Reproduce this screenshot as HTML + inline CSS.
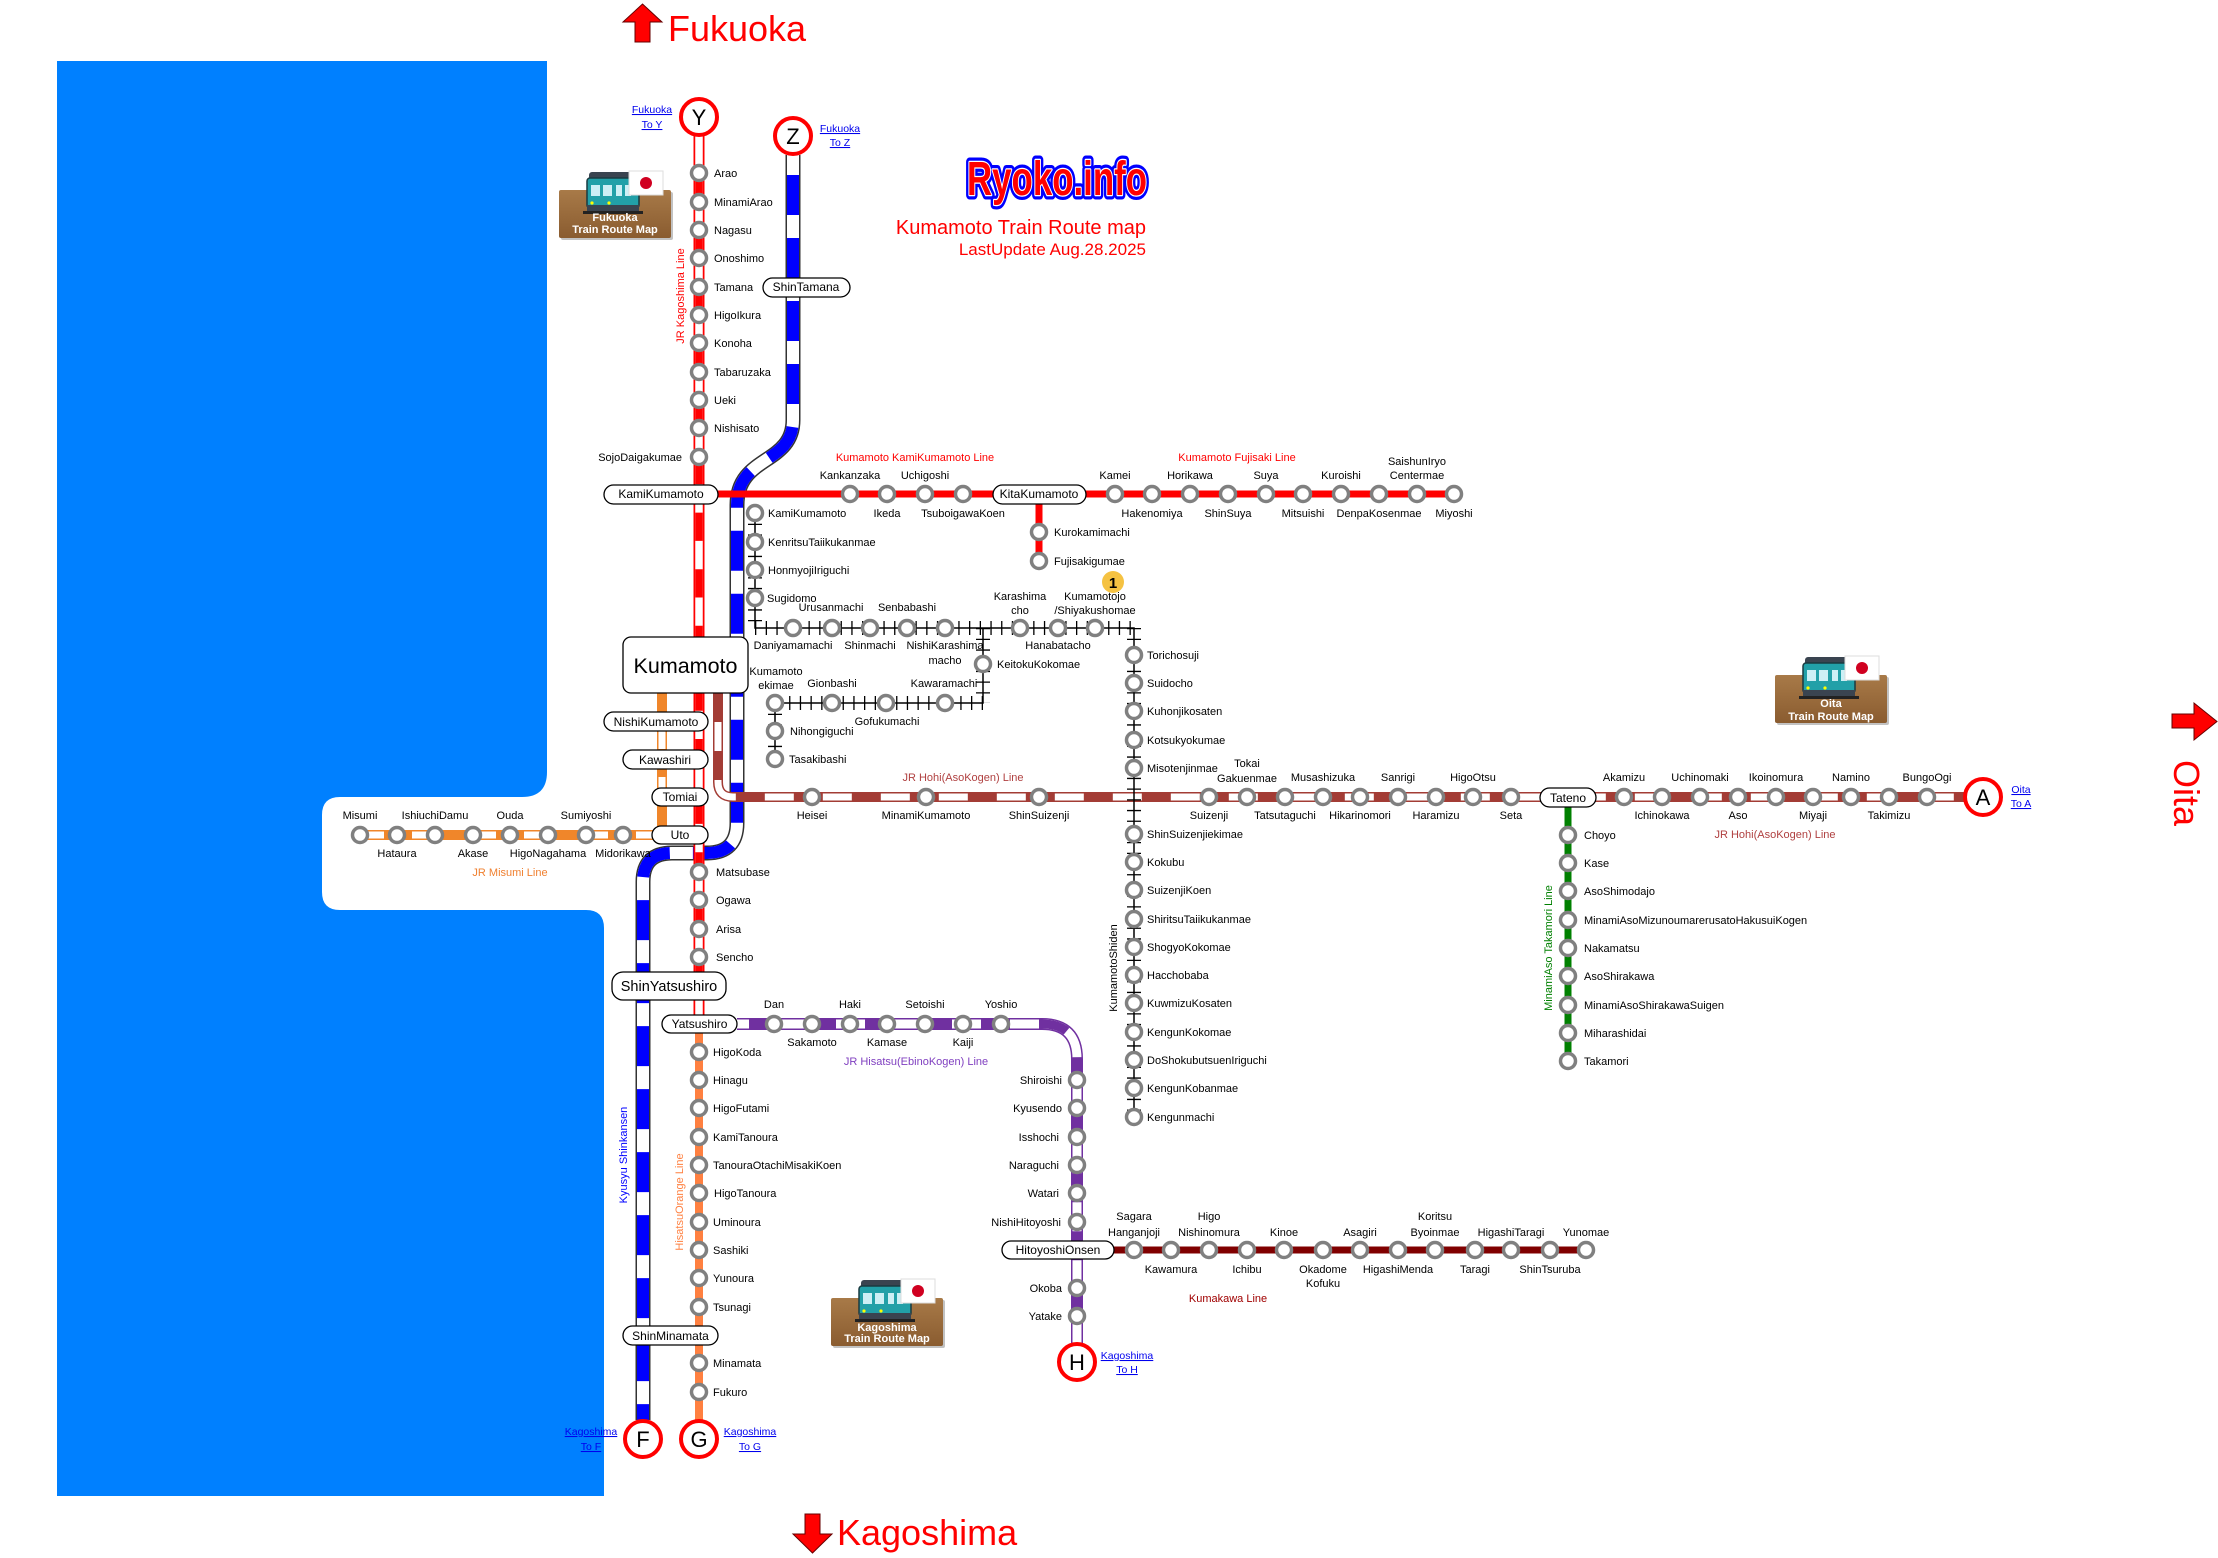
<!DOCTYPE html>
<html><head><meta charset="utf-8">
<style>
html,body{margin:0;padding:0;background:#fff;}
svg{display:block;}
.s{font-family:"Liberation Sans",sans-serif;font-size:11px;fill:#000;}
.m{text-anchor:middle;}
.e{text-anchor:end;}
.p{font-family:"Liberation Sans",sans-serif;font-size:12px;fill:#000;text-anchor:middle;}
.lk{font-family:"Liberation Sans",sans-serif;font-size:10.5px;fill:#0000ee;text-anchor:middle;text-decoration:underline;}
.cl{font-family:"Liberation Sans",sans-serif;font-size:22px;fill:#000;text-anchor:middle;}
.big{font-family:"Liberation Sans",sans-serif;font-size:36px;fill:#ff0000;}
.ic{font-family:"Liberation Sans",sans-serif;font-size:11px;font-weight:bold;fill:#fff;text-anchor:middle;}
</style></head>
<body>
<svg width="2218" height="1558" viewBox="0 0 2218 1558" xmlns="http://www.w3.org/2000/svg">
<defs>
<circle id="c" r="7.5" fill="#fff" stroke="#808080" stroke-width="3.5"/>
<linearGradient id="bx" x1="0" y1="0" x2="0" y2="1"><stop offset="0" stop-color="#a87a48"/><stop offset="1" stop-color="#8a5c30"/></linearGradient>
<g id="icon">
<rect x="2" y="20" width="112" height="48" rx="2" fill="#999" opacity="0.6"/>
<rect x="0" y="18" width="112" height="48" rx="2" fill="url(#bx)"/>
<rect x="30" y="0" width="48" height="8" rx="3" fill="#3a4450"/>
<rect x="28" y="6" width="52" height="30" rx="3" fill="#22a0a8" stroke="#1a3a40" stroke-width="1.5"/>
<rect x="32" y="13" width="9" height="11" fill="#cdeff5"/>
<rect x="44" y="13" width="9" height="11" fill="#cdeff5"/>
<rect x="57" y="13" width="6" height="11" fill="#cdeff5"/>
<rect x="66" y="13" width="6" height="11" fill="#cdeff5"/>
<rect x="28" y="33" width="52" height="7" fill="#3a4450"/>
<rect x="24" y="39" width="60" height="3" fill="#222"/>
<circle cx="33" cy="31" r="1.6" fill="#ff0"/><circle cx="50" cy="31" r="1.6" fill="#ff0"/>
<rect x="70" y="-1" width="34" height="24" fill="#fff" stroke="#ddd" stroke-width="1"/>
<circle cx="87" cy="11" r="6" fill="#d00020"/>
</g>
</defs>

<!-- sea -->
<path d="M57,61 H547 V772 Q547,797 522,797 H340 Q322,797 322,815 V892 Q322,910 340,910 H586 Q604,910 604,928 V1496 H57 Z" fill="#0080ff"/>

<!-- Shinkansen -->
<g fill="none">
<path d="M793,155 V420 C793,465 737,455 737,505 V823 Q737,853 707,853 H672 Q643,853 643,882 V1420" stroke="#333" stroke-width="15"/>
<path d="M793,155 V420 C793,465 737,455 737,505 V823 Q737,853 707,853 H672 Q643,853 643,882 V1420" stroke="#fff" stroke-width="12"/>
<path d="M793,175 V420 C793,465 737,455 737,505 V823 Q737,853 707,853 H672 Q643,853 643,882 V1420" stroke="#0000ff" stroke-width="12" stroke-dasharray="40 23"/>
</g>

<!-- Kagoshima line -->
<g fill="none">
<path d="M699,136 V1015" stroke="#ff0000" stroke-width="11"/>
<path d="M699,136 V1015" stroke="#fff" stroke-width="7.5"/>
<path d="M699,173 V1015" stroke="#ff0000" stroke-width="7.5" stroke-dasharray="28.3 28.3"/>
</g>

<!-- Misumi line -->
<g fill="none">
<path d="M662,693 V835 H360" stroke="#f0862a" stroke-width="10"/>
<path d="M662,693 V835 H360" stroke="#fff" stroke-width="7"/>
<path d="M662,693 V835 H360" stroke="#f0862a" stroke-width="7" stroke-dasharray="28 28"/>
</g>

<!-- Hohi line -->
<g fill="none">
<path d="M718,693 V782 Q718,797 733,797 H1964" stroke="#a33c35" stroke-width="10"/>
<path d="M718,693 V782 Q718,797 733,797 H1964" stroke="#fff" stroke-width="7"/>
<path d="M718,693 V782 Q718,797 733,797 H1964" stroke="#a33c35" stroke-width="7" stroke-dasharray="29 29"/>
</g>

<!-- KamiKumamoto / Fujisaki -->
<path d="M718,494 H1454 M1039,494 V561" stroke="#ff0000" stroke-width="7" fill="none"/>

<!-- Tram -->
<g fill="none" stroke="#000">
<path d="M755,513 V628 H1134 V1117 M983,628 V703 H775 V759" stroke-width="1.5"/>
<path d="M755,513 V628 M755,628 H1134 M1134,628 V1117 M983,628 V703 M983,703 H775 M775,703 V759" stroke-width="14" stroke-dasharray="1.3 9.4"/>
</g>

<!-- Hisatsu line -->
<g fill="none">
<path d="M737,1024 H1042 Q1077,1024 1077,1059 V1343" stroke="#7030a0" stroke-width="12"/>
<path d="M737,1024 H1042 Q1077,1024 1077,1059 V1343" stroke="#fff" stroke-width="9"/>
<path d="M737,1024 H1042 Q1077,1024 1077,1059 V1343" stroke="#7030a0" stroke-width="9" stroke-dasharray="29 29" stroke-dashoffset="-12"/>
</g>

<!-- Orange railway, Kumakawa, Takamori -->
<path d="M699,1033 V1420" stroke="#ff8040" stroke-width="8" fill="none"/>
<path d="M1114,1250 H1586" stroke="#800000" stroke-width="7" fill="none"/>
<path d="M1568,807 V1061" stroke="#008000" stroke-width="7" fill="none"/>

<!-- stations -->
<g>
<use href="#c" x="699" y="173"/><use href="#c" x="699" y="202"/><use href="#c" x="699" y="230"/><use href="#c" x="699" y="258"/><use href="#c" x="699" y="287"/><use href="#c" x="699" y="315"/><use href="#c" x="699" y="343"/><use href="#c" x="699" y="372"/><use href="#c" x="699" y="400"/><use href="#c" x="699" y="428"/><use href="#c" x="699" y="457"/>
<use href="#c" x="699" y="872"/><use href="#c" x="699" y="900"/><use href="#c" x="699" y="929"/><use href="#c" x="699" y="957"/>
<use href="#c" x="850" y="494"/><use href="#c" x="887" y="494"/><use href="#c" x="925" y="494"/><use href="#c" x="963" y="494"/>
<use href="#c" x="1115" y="494"/><use href="#c" x="1152" y="494"/><use href="#c" x="1190" y="494"/><use href="#c" x="1228" y="494"/><use href="#c" x="1266" y="494"/><use href="#c" x="1303" y="494"/><use href="#c" x="1341" y="494"/><use href="#c" x="1379" y="494"/><use href="#c" x="1417" y="494"/><use href="#c" x="1454" y="494"/>
<use href="#c" x="1039" y="532"/><use href="#c" x="1039" y="561"/>
<use href="#c" x="755" y="513"/><use href="#c" x="755" y="542"/><use href="#c" x="755" y="570"/><use href="#c" x="755" y="598"/>
<use href="#c" x="793" y="628"/><use href="#c" x="832" y="628"/><use href="#c" x="870" y="628"/><use href="#c" x="907" y="628"/><use href="#c" x="945" y="628"/><use href="#c" x="1020" y="628"/><use href="#c" x="1058" y="628"/><use href="#c" x="1095" y="628"/>
<use href="#c" x="983" y="664"/>
<use href="#c" x="775" y="703"/><use href="#c" x="832" y="703"/><use href="#c" x="886" y="703"/><use href="#c" x="945" y="703"/>
<use href="#c" x="775" y="731"/><use href="#c" x="775" y="759"/>
<use href="#c" x="1134" y="655"/><use href="#c" x="1134" y="683"/><use href="#c" x="1134" y="711"/><use href="#c" x="1134" y="740"/><use href="#c" x="1134" y="768"/><use href="#c" x="1134" y="834"/><use href="#c" x="1134" y="862"/><use href="#c" x="1134" y="890"/><use href="#c" x="1134" y="919"/><use href="#c" x="1134" y="947"/><use href="#c" x="1134" y="975"/><use href="#c" x="1134" y="1003"/><use href="#c" x="1134" y="1032"/><use href="#c" x="1134" y="1060"/><use href="#c" x="1134" y="1088"/><use href="#c" x="1134" y="1117"/>
<use href="#c" x="360" y="835"/><use href="#c" x="397" y="835"/><use href="#c" x="435" y="835"/><use href="#c" x="473" y="835"/><use href="#c" x="510" y="835"/><use href="#c" x="548" y="835"/><use href="#c" x="586" y="835"/><use href="#c" x="623" y="835"/>
<use href="#c" x="812" y="797"/><use href="#c" x="926" y="797"/><use href="#c" x="1039" y="797"/><use href="#c" x="1209" y="797"/><use href="#c" x="1247" y="797"/><use href="#c" x="1285" y="797"/><use href="#c" x="1323" y="797"/><use href="#c" x="1360" y="797"/><use href="#c" x="1398" y="797"/><use href="#c" x="1436" y="797"/><use href="#c" x="1473" y="797"/><use href="#c" x="1511" y="797"/><use href="#c" x="1624" y="797"/><use href="#c" x="1662" y="797"/><use href="#c" x="1700" y="797"/><use href="#c" x="1738" y="797"/><use href="#c" x="1776" y="797"/><use href="#c" x="1813" y="797"/><use href="#c" x="1851" y="797"/><use href="#c" x="1889" y="797"/><use href="#c" x="1927" y="797"/>
<use href="#c" x="1568" y="835"/><use href="#c" x="1568" y="863"/><use href="#c" x="1568" y="891"/><use href="#c" x="1568" y="920"/><use href="#c" x="1568" y="948"/><use href="#c" x="1568" y="976"/><use href="#c" x="1568" y="1005"/><use href="#c" x="1568" y="1033"/><use href="#c" x="1568" y="1061"/>
<use href="#c" x="774" y="1024"/><use href="#c" x="812" y="1024"/><use href="#c" x="850" y="1024"/><use href="#c" x="887" y="1024"/><use href="#c" x="925" y="1024"/><use href="#c" x="963" y="1024"/><use href="#c" x="1001" y="1024"/>
<use href="#c" x="1077" y="1080"/><use href="#c" x="1077" y="1108"/><use href="#c" x="1077" y="1137"/><use href="#c" x="1077" y="1165"/><use href="#c" x="1077" y="1193"/><use href="#c" x="1077" y="1222"/><use href="#c" x="1077" y="1288"/><use href="#c" x="1077" y="1316"/>
<use href="#c" x="699" y="1052"/><use href="#c" x="699" y="1080"/><use href="#c" x="699" y="1108"/><use href="#c" x="699" y="1137"/><use href="#c" x="699" y="1165"/><use href="#c" x="699" y="1193"/><use href="#c" x="699" y="1222"/><use href="#c" x="699" y="1250"/><use href="#c" x="699" y="1278"/><use href="#c" x="699" y="1307"/><use href="#c" x="699" y="1363"/><use href="#c" x="699" y="1392"/>
<use href="#c" x="1134" y="1250"/><use href="#c" x="1171" y="1250"/><use href="#c" x="1209" y="1250"/><use href="#c" x="1247" y="1250"/><use href="#c" x="1284" y="1250"/><use href="#c" x="1323" y="1250"/><use href="#c" x="1360" y="1250"/><use href="#c" x="1398" y="1250"/><use href="#c" x="1435" y="1250"/><use href="#c" x="1475" y="1250"/><use href="#c" x="1511" y="1250"/><use href="#c" x="1550" y="1250"/><use href="#c" x="1586" y="1250"/>
</g>

<!-- pills -->
<g fill="#fff" stroke="#000" stroke-width="1.3">
<rect x="604" y="485" width="114" height="19" rx="9.5"/>
<rect x="993" y="485" width="93" height="19" rx="9.5"/>
<rect x="763" y="278" width="87" height="19" rx="9.5"/>
<rect x="623" y="637" width="125" height="56" rx="8"/>
<rect x="604" y="712" width="104" height="19" rx="9.5"/>
<rect x="623" y="750" width="85" height="19" rx="9.5"/>
<rect x="652" y="788" width="56" height="18" rx="9"/>
<rect x="652" y="826" width="56" height="18" rx="9"/>
<rect x="612" y="972" width="114" height="28" rx="11"/>
<rect x="662" y="1015" width="75" height="18" rx="9"/>
<rect x="623" y="1326" width="95" height="19" rx="9.5"/>
<rect x="1540" y="788" width="56" height="19" rx="9.5"/>
<rect x="1002" y="1241" width="112" height="18" rx="9"/>
</g>
<g class="p">
<text x="661" y="498">KamiKumamoto</text>
<text x="1039" y="498">KitaKumamoto</text>
<text x="806" y="291">ShinTamana</text>
<text x="685.5" y="673" style="font-size:21.5px">Kumamoto</text>
<text x="656" y="726">NishiKumamoto</text>
<text x="665" y="764">Kawashiri</text>
<text x="680" y="801">Tomiai</text>
<text x="680" y="839">Uto</text>
<text x="669" y="991" style="font-size:14.5px">ShinYatsushiro</text>
<text x="699.5" y="1028">Yatsushiro</text>
<text x="670.5" y="1340">ShinMinamata</text>
<text x="1568" y="802">Tateno</text>
<text x="1058" y="1254">HitoyoshiOnsen</text>
</g>

<!-- terminal circles -->
<g fill="#fff" stroke="#ff0000" stroke-width="4">
<circle cx="699" cy="117" r="18"/><circle cx="793" cy="136" r="18"/><circle cx="1983" cy="797" r="18"/>
<circle cx="643" cy="1439" r="18"/><circle cx="699" cy="1439" r="18"/><circle cx="1077" cy="1362" r="18"/>
</g>
<g class="cl">
<text x="699" y="125">Y</text><text x="793" y="144">Z</text><text x="1983" y="805">A</text>
<text x="643" y="1447">F</text><text x="699" y="1447">G</text><text x="1077" y="1370">H</text>
</g>
<g class="lk">
<text x="652" y="113">Fukuoka</text><text x="652" y="128">To Y</text>
<text x="840" y="132">Fukuoka</text><text x="840" y="146">To Z</text>
<text x="2021" y="793">Oita</text><text x="2021" y="807">To A</text>
<text x="591" y="1435">Kagoshima</text><text x="591" y="1450">To F</text>
<text x="750" y="1435">Kagoshima</text><text x="750" y="1450">To G</text>
<text x="1127" y="1359">Kagoshima</text><text x="1127" y="1373">To H</text>
</g>

<!-- big arrows -->
<polygon points="642.5,4 662,22 650,22 650,42 635,42 635,22 623,22" fill="#ff0000" stroke="#600" stroke-width="1"/>
<text class="big" x="668" y="41">Fukuoka</text>
<polygon points="805,1514 820,1514 820,1534 832,1534 812.5,1553 793,1534 805,1534" fill="#ff0000" stroke="#600" stroke-width="1"/>
<text class="big" x="837" y="1545">Kagoshima</text>
<polygon points="2172,714 2194,714 2194,703 2217,721.5 2194,740 2194,728 2172,728" fill="#ff0000" stroke="#600" stroke-width="1"/>
<text class="big" transform="translate(2174,760) rotate(90)" x="0" y="0">Oita</text>

<!-- logo and title -->
<text x="967" y="195" font-family="'Liberation Sans Narrow','Liberation Sans',sans-serif" font-weight="bold" font-size="48" fill="#0000ff" stroke="#0000ff" stroke-width="9" stroke-linejoin="round" textLength="180" lengthAdjust="spacingAndGlyphs">Ryoko.info</text>
<text x="967" y="195" font-family="'Liberation Sans Narrow','Liberation Sans',sans-serif" font-weight="bold" font-size="48" fill="#ff0000" stroke="#fff" stroke-width="2.5" paint-order="stroke" stroke-linejoin="round" textLength="180" lengthAdjust="spacingAndGlyphs">Ryoko.info</text>
<text x="1146" y="234" class="e" font-family="'Liberation Sans',sans-serif" font-size="20" fill="#ff0000">Kumamoto Train Route map</text>
<text x="1146" y="255" class="e" font-family="'Liberation Sans',sans-serif" font-size="17" fill="#ff0000">LastUpdate Aug.28.2025</text>

<!-- icons -->
<use href="#icon" x="559" y="172"/>
<text class="ic" x="615" y="221">Fukuoka</text><text class="ic" x="615" y="233">Train Route Map</text>
<use href="#icon" x="1775" y="657"/>
<text class="ic" x="1831" y="707">Oita</text><text class="ic" x="1831" y="720">Train Route Map</text>
<use href="#icon" x="831" y="1280"/>
<text class="ic" x="887" y="1331">Kagoshima</text><text class="ic" x="887" y="1342">Train Route Map</text>

<!-- badge 1 -->
<circle cx="1113" cy="582" r="11" fill="#f5c242"/>
<text x="1113" y="588" class="m" font-family="'Liberation Sans',sans-serif" font-size="15" font-weight="bold" fill="#000">1</text>

<!-- line labels -->
<g font-family="'Liberation Sans',sans-serif" font-size="11">
<text x="915" y="461" class="m" fill="#ff0000">Kumamoto KamiKumamoto Line</text>
<text x="1237" y="461" class="m" fill="#ff0000">Kumamoto Fujisaki Line</text>
<text transform="translate(684,296) rotate(-90)" class="m" fill="#ff0000">JR Kagoshima Line</text>
<text x="963" y="781" class="m" fill="#b04040">JR Hohi(AsoKogen) Line</text>
<text x="1775" y="838" class="m" fill="#b04040">JR Hohi(AsoKogen) Line</text>
<text x="510" y="876" class="m" fill="#f08030">JR Misumi Line</text>
<text x="916" y="1065" class="m" fill="#8040c0">JR Hisatsu(EbinoKogen) Line</text>
<text x="1228" y="1302" class="m" fill="#a00000">Kumakawa Line</text>
<text transform="translate(1552,948) rotate(-90)" class="m" fill="#008000">MinamiAso Takamori Line</text>
<text transform="translate(683,1202) rotate(-90)" class="m" fill="#ff8040">HisatsuOrange Line</text>
<text transform="translate(627,1155) rotate(-90)" class="m" fill="#0000ff">Kyusyu Shinkansen</text>
<text transform="translate(1117,968) rotate(-90)" class="m" fill="#000">KumamotoShiden</text>
</g>

<!-- station labels -->
<g class="s">
<text x="714" y="177">Arao</text><text x="714" y="206">MinamiArao</text><text x="714" y="234">Nagasu</text><text x="714" y="262">Onoshimo</text><text x="714" y="291">Tamana</text><text x="714" y="319">HigoIkura</text><text x="714" y="347">Konoha</text><text x="714" y="376">Tabaruzaka</text><text x="714" y="404">Ueki</text><text x="714" y="432">Nishisato</text>
<text x="682" y="461" class="e">SojoDaigakumae</text>
<text x="716" y="876">Matsubase</text><text x="716" y="904">Ogawa</text><text x="716" y="933">Arisa</text><text x="716" y="961">Sencho</text>

<text x="850" y="479" class="m">Kankanzaka</text><text x="887" y="517" class="m">Ikeda</text><text x="925" y="479" class="m">Uchigoshi</text><text x="963" y="517" class="m">TsuboigawaKoen</text>
<text x="1115" y="479" class="m">Kamei</text><text x="1152" y="517" class="m">Hakenomiya</text><text x="1190" y="479" class="m">Horikawa</text><text x="1228" y="517" class="m">ShinSuya</text><text x="1266" y="479" class="m">Suya</text><text x="1303" y="517" class="m">Mitsuishi</text><text x="1341" y="479" class="m">Kuroishi</text><text x="1379" y="517" class="m">DenpaKosenmae</text><text x="1417" y="465" class="m">SaishunIryo</text><text x="1417" y="479" class="m">Centermae</text><text x="1454" y="517" class="m">Miyoshi</text>
<text x="1054" y="536">Kurokamimachi</text><text x="1054" y="565">Fujisakigumae</text>

<text x="768" y="517">KamiKumamoto</text><text x="768" y="546">KenritsuTaiikukanmae</text><text x="768" y="574">HonmyojiIriguchi</text><text x="767" y="602">Sugidomo</text>
<text x="793" y="649" class="m">Daniyamamachi</text><text x="831" y="611" class="m">Urusanmachi</text><text x="870" y="649" class="m">Shinmachi</text><text x="907" y="611" class="m">Senbabashi</text><text x="945" y="649" class="m">NishiKarashima</text><text x="945" y="664" class="m">macho</text><text x="1020" y="600" class="m">Karashima</text><text x="1020" y="614" class="m">cho</text><text x="1058" y="649" class="m">Hanabatacho</text><text x="1095" y="600" class="m">Kumamotojo</text><text x="1095" y="614" class="m">/Shiyakushomae</text>
<text x="997" y="668">KeitokuKokomae</text>
<text x="776" y="675" class="m">Kumamoto</text><text x="776" y="689" class="m">ekimae</text><text x="832" y="687" class="m">Gionbashi</text><text x="887" y="725" class="m">Gofukumachi</text><text x="944" y="687" class="m">Kawaramachi</text>
<text x="790" y="735">Nihongiguchi</text><text x="789" y="763">Tasakibashi</text>
<text x="1147" y="659">Torichosuji</text><text x="1147" y="687">Suidocho</text><text x="1147" y="715">Kuhonjikosaten</text><text x="1147" y="744">Kotsukyokumae</text><text x="1147" y="772">Misotenjinmae</text><text x="1147" y="838">ShinSuizenjiekimae</text><text x="1147" y="866">Kokubu</text><text x="1147" y="894">SuizenjiKoen</text><text x="1147" y="923">ShiritsuTaiikukanmae</text><text x="1147" y="951">ShogyoKokomae</text><text x="1147" y="979">Hacchobaba</text><text x="1147" y="1007">KuwmizuKosaten</text><text x="1147" y="1036">KengunKokomae</text><text x="1147" y="1064">DoShokubutsuenIriguchi</text><text x="1147" y="1092">KengunKobanmae</text><text x="1147" y="1121">Kengunmachi</text>

<text x="360" y="819" class="m">Misumi</text><text x="397" y="857" class="m">Hataura</text><text x="435" y="819" class="m">IshiuchiDamu</text><text x="473" y="857" class="m">Akase</text><text x="510" y="819" class="m">Ouda</text><text x="548" y="857" class="m">HigoNagahama</text><text x="586" y="819" class="m">Sumiyoshi</text><text x="623" y="857" class="m">Midorikawa</text>

<text x="812" y="819" class="m">Heisei</text><text x="926" y="819" class="m">MinamiKumamoto</text><text x="1039" y="819" class="m">ShinSuizenji</text><text x="1209" y="819" class="m">Suizenji</text><text x="1247" y="767" class="m">Tokai</text><text x="1247" y="782" class="m">Gakuenmae</text><text x="1285" y="819" class="m">Tatsutaguchi</text><text x="1323" y="781" class="m">Musashizuka</text><text x="1360" y="819" class="m">Hikarinomori</text><text x="1398" y="781" class="m">Sanrigi</text><text x="1436" y="819" class="m">Haramizu</text><text x="1473" y="781" class="m">HigoOtsu</text><text x="1511" y="819" class="m">Seta</text>
<text x="1624" y="781" class="m">Akamizu</text><text x="1662" y="819" class="m">Ichinokawa</text><text x="1700" y="781" class="m">Uchinomaki</text><text x="1738" y="819" class="m">Aso</text><text x="1776" y="781" class="m">Ikoinomura</text><text x="1813" y="819" class="m">Miyaji</text><text x="1851" y="781" class="m">Namino</text><text x="1889" y="819" class="m">Takimizu</text><text x="1927" y="781" class="m">BungoOgi</text>

<text x="1584" y="839">Choyo</text><text x="1584" y="867">Kase</text><text x="1584" y="895">AsoShimodajo</text><text x="1584" y="924">MinamiAsoMizunoumarerusatoHakusuiKogen</text><text x="1584" y="952">Nakamatsu</text><text x="1584" y="980">AsoShirakawa</text><text x="1584" y="1009">MinamiAsoShirakawaSuigen</text><text x="1584" y="1037">Miharashidai</text><text x="1584" y="1065">Takamori</text>

<text x="774" y="1008" class="m">Dan</text><text x="812" y="1046" class="m">Sakamoto</text><text x="850" y="1008" class="m">Haki</text><text x="887" y="1046" class="m">Kamase</text><text x="925" y="1008" class="m">Setoishi</text><text x="963" y="1046" class="m">Kaiji</text><text x="1001" y="1008" class="m">Yoshio</text>
<text x="1062" y="1084" class="e">Shiroishi</text><text x="1062" y="1112" class="e">Kyusendo</text><text x="1059" y="1141" class="e">Isshochi</text><text x="1059" y="1169" class="e">Naraguchi</text><text x="1059" y="1197" class="e">Watari</text><text x="1061" y="1226" class="e">NishiHitoyoshi</text><text x="1062" y="1292" class="e">Okoba</text><text x="1062" y="1320" class="e">Yatake</text>

<text x="713" y="1056">HigoKoda</text><text x="713" y="1084">Hinagu</text><text x="713" y="1112">HigoFutami</text><text x="713" y="1141">KamiTanoura</text><text x="713" y="1169">TanouraOtachiMisakiKoen</text><text x="714" y="1197">HigoTanoura</text><text x="713" y="1226">Uminoura</text><text x="713" y="1254">Sashiki</text><text x="713" y="1282">Yunoura</text><text x="713" y="1311">Tsunagi</text><text x="713" y="1367">Minamata</text><text x="713" y="1396">Fukuro</text>

<text x="1134" y="1220" class="m">Sagara</text><text x="1134" y="1236" class="m">Hanganjoji</text><text x="1171" y="1273" class="m">Kawamura</text><text x="1209" y="1220" class="m">Higo</text><text x="1209" y="1236" class="m">Nishinomura</text><text x="1247" y="1273" class="m">Ichibu</text><text x="1284" y="1236" class="m">Kinoe</text><text x="1323" y="1273" class="m">Okadome</text><text x="1323" y="1287" class="m">Kofuku</text><text x="1360" y="1236" class="m">Asagiri</text><text x="1398" y="1273" class="m">HigashiMenda</text><text x="1435" y="1220" class="m">Koritsu</text><text x="1435" y="1236" class="m">Byoinmae</text><text x="1475" y="1273" class="m">Taragi</text><text x="1511" y="1236" class="m">HigashiTaragi</text><text x="1550" y="1273" class="m">ShinTsuruba</text><text x="1586" y="1236" class="m">Yunomae</text>
</g>
</svg>
</body></html>
